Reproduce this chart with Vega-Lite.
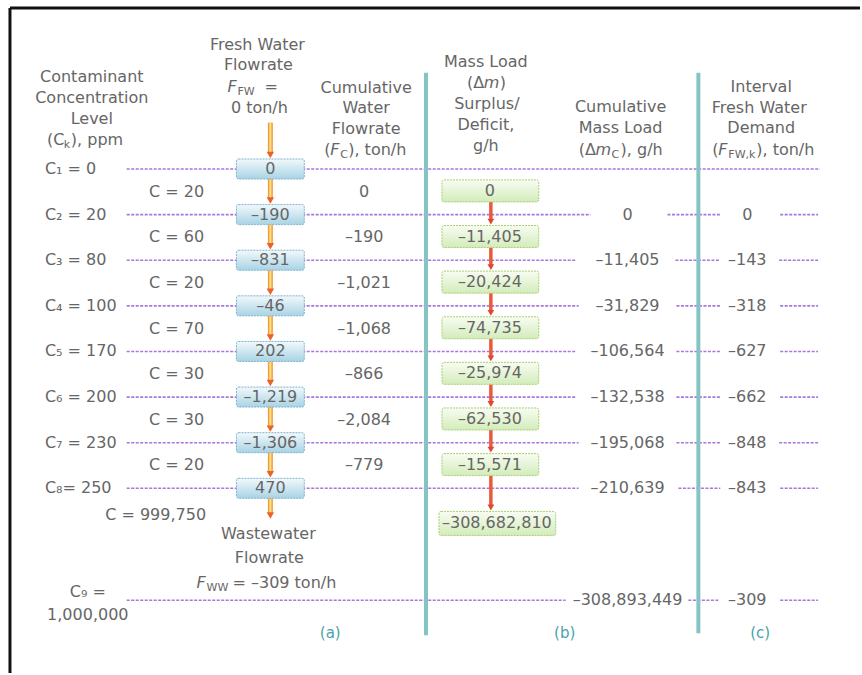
{
  "$schema": "https://vega.github.io/schema/vega-lite/v6.json",
  "width": 862,
  "height": 675,
  "padding": 0,
  "autosize": {"type": "fit", "contains": "padding"},
  "background": "white",
  "config": {"view": {"stroke": null}, "axis": {"disable": true}},
  "datasets": {
    "frameTop": [{"x": 10, "x2": 862, "L": -2.53}],
    "frameLeft": [{"x": 10, "L": -2.53, "L2": 12.049}],
    "hlines": [
      {"x": 127, "x2": 822, "L": 1},
      {"x": 127, "x2": 592, "L": 2}, {"x": 669, "x2": 722, "L": 2}, {"x": 782, "x2": 820, "L": 2},
      {"x": 127, "x2": 578, "L": 3}, {"x": 677, "x2": 722, "L": 3}, {"x": 781, "x2": 820, "L": 3},
      {"x": 127, "x2": 580, "L": 4}, {"x": 678, "x2": 722, "L": 4}, {"x": 782, "x2": 820, "L": 4},
      {"x": 127, "x2": 578, "L": 5}, {"x": 678, "x2": 722, "L": 5}, {"x": 782, "x2": 820, "L": 5},
      {"x": 127, "x2": 578, "L": 6}, {"x": 678, "x2": 722, "L": 6}, {"x": 782, "x2": 820, "L": 6},
      {"x": 127, "x2": 580, "L": 7}, {"x": 678, "x2": 722, "L": 7}, {"x": 781, "x2": 820, "L": 7},
      {"x": 127, "x2": 580, "L": 8}, {"x": 680, "x2": 722, "L": 8}, {"x": 782, "x2": 820, "L": 8},
      {"x": 127, "x2": 567, "L": 10.454}, {"x": 690, "x2": 720, "L": 10.454}, {"x": 782, "x2": 820, "L": 10.454}
    ],
    "dividers": [
      {"x": 427, "L": -1.109, "L2": 11.219},
      {"x": 700, "L": -1.109, "L2": 11.175}
    ],
    "arrowA": [
      {"from": -0.016, "to": 0.78},
      {"from": 1.22, "to": 1.78}, {"from": 2.22, "to": 2.78}, {"from": 3.22, "to": 3.78},
      {"from": 4.22, "to": 4.78}, {"from": 5.22, "to": 5.78}, {"from": 6.22, "to": 6.78},
      {"from": 7.22, "to": 7.78}, {"from": 8.22, "to": 8.683}
    ],
    "arrowB": [
      {"from": 1.72, "to": 2.24}, {"from": 2.72, "to": 3.24}, {"from": 3.72, "to": 4.24},
      {"from": 4.72, "to": 5.24}, {"from": 5.72, "to": 6.24}, {"from": 6.72, "to": 7.24},
      {"from": 7.72, "to": 8.508}
    ],
    "boxA": [
      {"L": 1, "v": "0"}, {"L": 2, "v": "–190"}, {"L": 3, "v": "–831"}, {"L": 4, "v": "–46"},
      {"L": 5, "v": "202"}, {"L": 6, "v": "–1,219"}, {"L": 7, "v": "–1,306"}, {"L": 8, "v": "470"}
    ],
    "boxB": [
      {"L": 1.48, "v": "0"}, {"L": 2.48, "v": "–11,405"}, {"L": 3.48, "v": "–20,424"},
      {"L": 4.48, "v": "–74,735"}, {"L": 5.48, "v": "–25,974"}, {"L": 6.48, "v": "–62,530"},
      {"L": 7.48, "v": "–15,571"}
    ],
    "boxBlast": [{"L": 8.77, "v": "–308,682,810"}],
    "ctext": [
      {"x": 92, "L": -1.022, "t": "Contaminant"},
      {"x": 92, "L": -0.563, "t": "Concentration"},
      {"x": 92, "L": -0.104, "t": "Level"},
      {"x": 258, "L": -1.721, "t": "Fresh Water"},
      {"x": 259, "L": -1.284, "t": "Flowrate"},
      {"x": 260, "L": -0.344, "t": "0 ton/h"},
      {"x": 367, "L": -0.781, "t": "Cumulative"},
      {"x": 367, "L": -0.344, "t": "Water"},
      {"x": 367, "L": 0.115, "t": "Flowrate"},
      {"x": 487, "L": -1.35, "t": "Mass Load"},
      {"x": 488, "L": -0.432, "t": "Surplus/"},
      {"x": 487, "L": 0.027, "t": "Deficit,"},
      {"x": 487, "L": 0.486, "t": "g/h"},
      {"x": 622, "L": -0.366, "t": "Cumulative"},
      {"x": 622, "L": 0.093, "t": "Mass Load"},
      {"x": 763, "L": -0.803, "t": "Interval"},
      {"x": 761, "L": -0.344, "t": "Fresh Water"},
      {"x": 763, "L": 0.093, "t": "Demand"},
      {"x": 177, "L": 1.5, "t": "C = 20"},
      {"x": 177, "L": 2.5, "t": "C = 60"},
      {"x": 177, "L": 3.5, "t": "C = 20"},
      {"x": 177, "L": 4.5, "t": "C = 70"},
      {"x": 177, "L": 5.5, "t": "C = 30"},
      {"x": 177, "L": 6.5, "t": "C = 30"},
      {"x": 177, "L": 7.5, "t": "C = 20"},
      {"x": 156, "L": 8.596, "t": "C = 999,750"},
      {"x": 365, "L": 1.5, "t": "0"},
      {"x": 365, "L": 2.5, "t": "–190"},
      {"x": 365, "L": 3.5, "t": "–1,021"},
      {"x": 365, "L": 4.5, "t": "–1,068"},
      {"x": 365, "L": 5.5, "t": "–866"},
      {"x": 365, "L": 6.5, "t": "–2,084"},
      {"x": 365, "L": 7.5, "t": "–779"},
      {"x": 629, "L": 2, "t": "0"},
      {"x": 629, "L": 3, "t": "–11,405"},
      {"x": 629, "L": 4, "t": "–31,829"},
      {"x": 629, "L": 5, "t": "–106,564"},
      {"x": 629, "L": 6, "t": "–132,538"},
      {"x": 629, "L": 7, "t": "–195,068"},
      {"x": 629, "L": 8, "t": "–210,639"},
      {"x": 629, "L": 10.454, "t": "–308,893,449"},
      {"x": 749, "L": 2, "t": "0"},
      {"x": 749, "L": 3, "t": "–143"},
      {"x": 749, "L": 4, "t": "–318"},
      {"x": 749, "L": 5, "t": "–627"},
      {"x": 749, "L": 6, "t": "–662"},
      {"x": 749, "L": 7, "t": "–848"},
      {"x": 749, "L": 8, "t": "–843"},
      {"x": 749, "L": 10.454, "t": "–309"},
      {"x": 269, "L": 9.011, "t": "Wastewater"},
      {"x": 270, "L": 9.536, "t": "Flowrate"},
      {"x": 88, "L": 10.279, "t": "C₉ ="},
      {"x": 88, "L": 10.781, "t": "1,000,000"}
    ],
    "ltext": [
      {"x": 45, "L": 1, "t": "C₁ = 0"},
      {"x": 45, "L": 2, "t": "C₂ = 20"},
      {"x": 45, "L": 3, "t": "C₃ = 80"},
      {"x": 45, "L": 4, "t": "C₄ = 100"},
      {"x": 45, "L": 5, "t": "C₅ = 170"},
      {"x": 45, "L": 6, "t": "C₆ = 200"},
      {"x": 45, "L": 7, "t": "C₇ = 230"},
      {"x": 45, "L": 8, "t": "C₈= 250"},
      {"x": 265, "L": -0.803, "t": "="},
      {"x": 325, "L": 0.574, "t": "("},
      {"x": 349, "L": 0.574, "t": "), ton/h"},
      {"x": 468, "L": -0.891, "t": "(Δ"},
      {"x": 501, "L": -0.891, "t": ")"},
      {"x": 580, "L": 0.574, "t": "(Δ"},
      {"x": 622, "L": 0.574, "t": "), g/h"},
      {"x": 714, "L": 0.574, "t": "("},
      {"x": 758, "L": 0.574, "t": "), ton/h"},
      {"x": 47, "L": 0.355, "t": "(C"},
      {"x": 71, "L": 0.355, "t": "), ppm"},
      {"x": 233, "L": 10.082, "t": "= –309 ton/h"}
    ],
    "itext": [
      {"x": 228, "L": -0.803, "t": "F"},
      {"x": 331, "L": 0.574, "t": "F"},
      {"x": 485, "L": -0.891, "t": "m"},
      {"x": 597, "L": 0.574, "t": "m"},
      {"x": 720, "L": 0.574, "t": "F"},
      {"x": 197, "L": 10.082, "t": "F"}
    ],
    "stext": [
      {"x": 238, "L": -0.803, "t": "FW"},
      {"x": 341, "L": 0.574, "t": "C"},
      {"x": 613, "L": 0.574, "t": "C"},
      {"x": 730, "L": 0.574, "t": "FW,k"},
      {"x": 64, "L": 0.355, "t": "k"},
      {"x": 207, "L": 10.082, "t": "WW"}
    ],
    "teal": [
      {"x": 331, "L": 11.175, "t": "(a)"},
      {"x": 566, "L": 11.175, "t": "(b)"},
      {"x": 762, "L": 11.175, "t": "(c)"}
    ]
  },
  "layer": [
    {
      "data": {"name": "frameTop"},
      "mark": {"type": "rule", "strokeWidth": 3, "color": "#111111"},
      "encoding": {
        "x": {"field": "x", "type": "quantitative", "scale": {"domain": [0, 862], "nice": false, "zero": false}},
        "x2": {"field": "x2"},
        "y": {"field": "L", "type": "quantitative", "scale": {"domain": [-2.705, 12.049], "reverse": true, "nice": false, "zero": false}}
      }
    },
    {
      "data": {"name": "frameLeft"},
      "mark": {"type": "rule", "strokeWidth": 3, "color": "#111111"},
      "encoding": {
        "x": {"field": "x", "type": "quantitative"},
        "y": {"field": "L", "type": "quantitative"},
        "y2": {"field": "L2"}
      }
    },
    {
      "data": {"name": "hlines"},
      "mark": {"type": "rule", "strokeWidth": 1.6, "color": "#a877dd", "strokeDash": [3, 1.5]},
      "encoding": {
        "x": {"field": "x", "type": "quantitative"},
        "x2": {"field": "x2"},
        "y": {"field": "L", "type": "quantitative"}
      }
    },
    {
      "data": {"name": "dividers"},
      "mark": {"type": "rule", "strokeWidth": 4, "color": "#86c4c3"},
      "encoding": {
        "x": {"field": "x", "type": "quantitative"},
        "y": {"field": "L", "type": "quantitative"},
        "y2": {"field": "L2"}
      }
    },
    {
      "data": {"name": "arrowA"},
      "mark": {"type": "rule", "strokeWidth": 5, "color": "#f0a03a", "y2Offset": -5},
      "encoding": {
        "x": {"datum": 271, "type": "quantitative"},
        "y": {"field": "from", "type": "quantitative"},
        "y2": {"field": "to"}
      }
    },
    {
      "data": {"name": "arrowA"},
      "mark": {"type": "rule", "strokeWidth": 2, "color": "#ffe08a", "y2Offset": -6},
      "encoding": {
        "x": {"datum": 271, "type": "quantitative"},
        "y": {"field": "from", "type": "quantitative"},
        "y2": {"field": "to"}
      }
    },
    {
      "data": {"name": "arrowA"},
      "mark": {"type": "point", "shape": "triangle-down", "filled": true, "size": 55, "color": "#e8642c", "opacity": 1, "yOffset": -4},
      "encoding": {
        "x": {"datum": 271, "type": "quantitative"},
        "y": {"field": "to", "type": "quantitative"}
      }
    },
    {
      "data": {"name": "arrowB"},
      "mark": {"type": "rule", "strokeWidth": 3.5, "color": "#e85a3c", "y2Offset": -5},
      "encoding": {
        "x": {"datum": 492, "type": "quantitative"},
        "y": {"field": "from", "type": "quantitative"},
        "y2": {"field": "to"}
      }
    },
    {
      "data": {"name": "arrowB"},
      "mark": {"type": "point", "shape": "triangle-down", "filled": true, "size": 45, "color": "#e0482c", "opacity": 1, "yOffset": -4},
      "encoding": {
        "x": {"datum": 492, "type": "quantitative"},
        "y": {"field": "to", "type": "quantitative"}
      }
    },
    {
      "data": {"name": "boxA"},
      "mark": {
        "type": "rect", "yOffset": -10, "y2Offset": 10, "cornerRadius": 2,
        "stroke": "#7fb2cf", "strokeWidth": 1, "strokeDash": [2, 1],
        "fill": {"gradient": "linear", "x1": 0, "y1": 0, "x2": 0, "y2": 1,
          "stops": [{"offset": 0, "color": "#f2f9fc"}, {"offset": 1, "color": "#a8d3e4"}]}
      },
      "encoding": {
        "x": {"datum": 237, "type": "quantitative"},
        "x2": {"datum": 305},
        "y": {"field": "L", "type": "quantitative"},
        "y2": {"field": "L"}
      }
    },
    {
      "data": {"name": "boxA"},
      "mark": {"type": "text", "font": "DejaVu Sans", "fontSize": 16, "color": "#666666", "baseline": "middle", "align": "center"},
      "encoding": {
        "x": {"datum": 271, "type": "quantitative"},
        "y": {"field": "L", "type": "quantitative"},
        "text": {"field": "v"}
      }
    },
    {
      "data": {"name": "boxB"},
      "mark": {
        "type": "rect", "yOffset": -11, "y2Offset": 11, "cornerRadius": 2,
        "stroke": "#a9cf72", "strokeWidth": 1, "strokeDash": [2, 1],
        "fill": {"gradient": "linear", "x1": 0, "y1": 0, "x2": 0, "y2": 1,
          "stops": [{"offset": 0, "color": "#f8fcf2"}, {"offset": 1, "color": "#d3ecbb"}]}
      },
      "encoding": {
        "x": {"datum": 443, "type": "quantitative"},
        "x2": {"datum": 540},
        "y": {"field": "L", "type": "quantitative"},
        "y2": {"field": "L"}
      }
    },
    {
      "data": {"name": "boxB"},
      "mark": {"type": "text", "font": "DejaVu Sans", "fontSize": 16, "color": "#666666", "baseline": "middle", "align": "center"},
      "encoding": {
        "x": {"datum": 491, "type": "quantitative"},
        "y": {"field": "L", "type": "quantitative"},
        "text": {"field": "v"}
      }
    },
    {
      "data": {"name": "boxBlast"},
      "mark": {
        "type": "rect", "yOffset": -12, "y2Offset": 12, "cornerRadius": 2,
        "stroke": "#a9cf72", "strokeWidth": 1, "strokeDash": [2, 1],
        "fill": {"gradient": "linear", "x1": 0, "y1": 0, "x2": 0, "y2": 1,
          "stops": [{"offset": 0, "color": "#f8fcf2"}, {"offset": 1, "color": "#d3ecbb"}]}
      },
      "encoding": {
        "x": {"datum": 440, "type": "quantitative"},
        "x2": {"datum": 557},
        "y": {"field": "L", "type": "quantitative"},
        "y2": {"field": "L"}
      }
    },
    {
      "data": {"name": "boxBlast"},
      "mark": {"type": "text", "font": "DejaVu Sans", "fontSize": 16, "color": "#666666", "baseline": "middle", "align": "center"},
      "encoding": {
        "x": {"datum": 498, "type": "quantitative"},
        "y": {"field": "L", "type": "quantitative"},
        "text": {"field": "v"}
      }
    },
    {
      "data": {"name": "ctext"},
      "mark": {"type": "text", "font": "DejaVu Sans", "fontSize": 16, "color": "#666666", "baseline": "middle", "align": "center"},
      "encoding": {
        "x": {"field": "x", "type": "quantitative"},
        "y": {"field": "L", "type": "quantitative"},
        "text": {"field": "t"}
      }
    },
    {
      "data": {"name": "ltext"},
      "mark": {"type": "text", "font": "DejaVu Sans", "fontSize": 16, "color": "#666666", "baseline": "middle", "align": "left"},
      "encoding": {
        "x": {"field": "x", "type": "quantitative"},
        "y": {"field": "L", "type": "quantitative"},
        "text": {"field": "t"}
      }
    },
    {
      "data": {"name": "itext"},
      "mark": {"type": "text", "font": "DejaVu Sans", "fontSize": 16, "fontStyle": "italic", "color": "#666666", "baseline": "middle", "align": "left"},
      "encoding": {
        "x": {"field": "x", "type": "quantitative"},
        "y": {"field": "L", "type": "quantitative"},
        "text": {"field": "t"}
      }
    },
    {
      "data": {"name": "stext"},
      "mark": {"type": "text", "font": "DejaVu Sans", "fontSize": 11, "color": "#666666", "baseline": "middle", "align": "left", "dy": 5},
      "encoding": {
        "x": {"field": "x", "type": "quantitative"},
        "y": {"field": "L", "type": "quantitative"},
        "text": {"field": "t"}
      }
    },
    {
      "data": {"name": "teal"},
      "mark": {"type": "text", "font": "DejaVu Sans", "fontSize": 15, "color": "#4aa3a8", "baseline": "middle", "align": "center"},
      "encoding": {
        "x": {"field": "x", "type": "quantitative"},
        "y": {"field": "L", "type": "quantitative"},
        "text": {"field": "t"}
      }
    }
  ]
}
